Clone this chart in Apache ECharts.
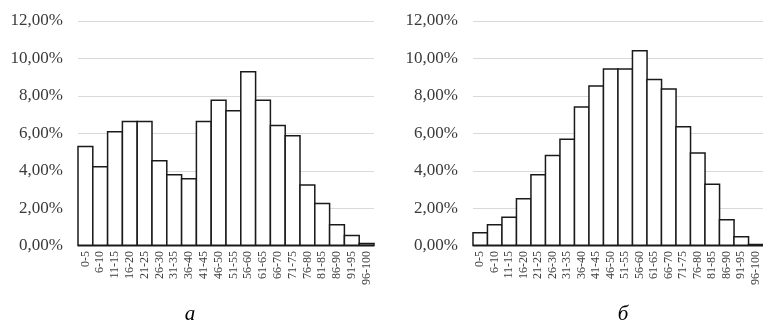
<!DOCTYPE html>
<html>
<head>
<meta charset="utf-8">
<script src="https://cdn.jsdelivr.net/npm/echarts@6/dist/echarts.min.js"></script>
<style>
  html, body { margin: 0; padding: 0; background: #fff; }
  #chart { width: 763px; height: 320px; }
</style>
</head>
<body>
<div id="chart"></div>
<script>
// Score ranges (bins of 5 points)
const categories = ['0-5', '6-10', '11-15', '16-20', '21-25', '26-30', '31-35', '36-40', '41-45', '46-50',
  '51-55', '56-60', '61-65', '66-70', '71-75', '76-80', '81-85', '86-90', '91-95', '96-100'];

// Share of results per range, percent — panel "а"
const valuesA = [5.35, 4.27, 6.13, 6.68, 6.68, 4.59, 3.84, 3.63, 6.68, 7.82,
  7.25, 9.33, 7.82, 6.47, 5.92, 3.29, 2.31, 1.17, 0.60, 0.18];

// Share of results per range, percent — panel "б"
const valuesB = [0.75, 1.17, 1.58, 2.56, 3.84, 4.87, 5.74, 7.45, 8.57, 9.48,
  9.48, 10.45, 8.92, 8.41, 6.40, 5.00, 3.34, 1.44, 0.53, 0.12];

// Y axis ticks, percent
const yTicks = [0, 2, 4, 6, 8, 10, 12];

const panelCaptions = ['а', 'б'];

const serif = '"Liberation Serif", "DejaVu Serif", serif';
const BORDER = 1.5;

// Grid boxes of the two panels
const gridA = { left: 78, right: 389, top: 21, bottom: 74 };
const gridB = { left: 473, right: -2, top: 21, bottom: 74 };
const CHART_W = 763;

function fmtPct(v) {
  return v.toFixed(2).replace('.', ',') + '%';
}

// ECharts insets the outline inside each bar, so widen bars by the
// border width to make neighbouring bars share a single edge.
function barWidthFor(grid) {
  return (CHART_W - grid.left - grid.right) / categories.length + BORDER;
}

function xAxisFor(gridIndex) {
  return {
    type: 'category',
    gridIndex: gridIndex,
    data: categories,
    axisTick: { show: false },
    axisLine: { lineStyle: { color: '#8c8c8c', width: 1 } },
    axisLabel: {
      interval: 0,
      rotate: 90,
      margin: 5,
      fontFamily: serif,
      fontSize: 12,
      color: '#404040'
    }
  };
}

function yAxisFor(gridIndex) {
  return {
    type: 'value',
    gridIndex: gridIndex,
    min: yTicks[0],
    max: yTicks[yTicks.length - 1],
    interval: yTicks[1] - yTicks[0],
    axisLine: { show: false },
    axisTick: { show: false },
    splitLine: { lineStyle: { color: '#d9d9d9', width: 1 } },
    axisLabel: {
      margin: 15,
      fontFamily: serif,
      fontSize: 17,
      color: '#3a3a3a',
      formatter: fmtPct
    }
  };
}

function barSeries(idx, data, width) {
  return {
    type: 'bar',
    xAxisIndex: idx,
    yAxisIndex: idx,
    data: data,
    barWidth: width,
    silent: true,
    itemStyle: {
      color: '#ffffff',
      borderColor: '#1a1a1a',
      borderWidth: BORDER
    }
  };
}

const chart = echarts.init(document.getElementById('chart'), null, { renderer: 'canvas' });

chart.setOption({
  animation: false,
  backgroundColor: '#ffffff',
  grid: [gridA, gridB],
  xAxis: [xAxisFor(0), xAxisFor(1)],
  yAxis: [yAxisFor(0), yAxisFor(1)],
  series: [
    barSeries(0, valuesA, barWidthFor(gridA)),
    barSeries(1, valuesB, barWidthFor(gridB))
  ],
  title: [
    {
      text: panelCaptions[0],
      left: 185, top: 299,
      textAlign: 'center',
      textStyle: { fontFamily: serif, fontStyle: 'italic', fontWeight: 'normal', fontSize: 21, color: '#000' }
    },
    {
      text: panelCaptions[1],
      left: 618, top: 299,
      textAlign: 'center',
      textStyle: { fontFamily: serif, fontStyle: 'italic', fontWeight: 'normal', fontSize: 21, color: '#000' }
    }
  ]
});
</script>
</body>
</html>
